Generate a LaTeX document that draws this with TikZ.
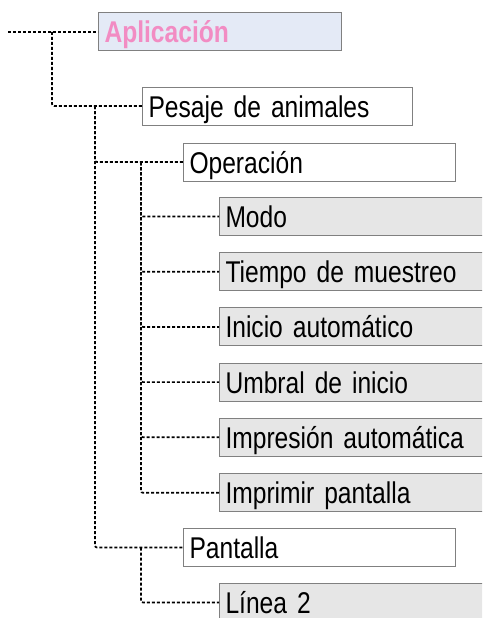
\documentclass[tikz,border=0pt]{standalone}
\usepackage{fontspec}
\setmainfont{Liberation Sans}[FakeStretch=0.82]
\definecolor{boxgray}{RGB}{128,128,128}
\definecolor{fillgray}{RGB}{230,230,230}
\definecolor{fillblue}{RGB}{228,234,246}
\definecolor{pinktext}{RGB}{242,140,195}
\begin{document}
\begin{tikzpicture}[x=1pt,y=-1pt,
  box/.style={draw=boxgray, line width=1pt, minimum height=38pt, text width=#1,
    inner xsep=6pt, inner ysep=0pt, text height=22pt, text depth=0pt,
    anchor=west, font=\fontsize{30}{32}\selectfont, align=left},
  conn/.style={line width=1.7pt, dash pattern=on 3pt off 2pt, rounded corners=2pt}]
\useasboundingbox (0,0) rectangle (482,618);
\clip (0,0) rectangle (482,618);
\fill[white] (0,0) rectangle (482,618);
% nodes
\node[box=231pt, fill=fillblue, text=pinktext, font=\fontsize{30}{32}\selectfont\bfseries] (app) at (98,32) {\mbox{Aplicación}};
\node[box=258pt, fill=white] (pes) at (142,106) {\mbox{Pesaje de animales}};
\node[box=260pt, fill=white] (oper) at (183,162) {\mbox{Operación}};
\node[box=269pt, fill=fillgray] (modo) at (219,216.5) {\mbox{Modo}};
\node[box=269pt, fill=fillgray] (tiem) at (219,271.7) {\mbox{Tiempo de muestreo}};
\node[box=269pt, fill=fillgray] (inic) at (219,326.9) {\mbox{Inicio automático}};
\node[box=269pt, fill=fillgray] (umbr) at (219,382.1) {\mbox{Umbral de inicio}};
\node[box=269pt, fill=fillgray] (impr) at (219,437.3) {\mbox{Impresión automática}};
\node[box=269pt, fill=fillgray] (impp) at (219,492.8) {\mbox{Imprimir pantalla}};
\node[box=260pt, fill=white] (pant) at (183,547.5) {\mbox{Pantalla}};
\node[box=269pt, fill=fillgray] (lin) at (219,602.5) {\mbox{Línea 2}};
% junctions
\coordinate (s) at (8,32);
\coordinate (j1) at (52,32);
\coordinate (j2) at (95,106);
\coordinate (j3) at (141,162);
\coordinate (j4) at (141,547.5);
% connectors
\draw[conn] (s) -- (app.west);
\draw[conn] (j1) |- (pes.west);
\draw[conn] (j2) |- (oper.west);
\draw[conn] (j2) |- (pant.west);
\foreach \c in {modo,tiem,inic,umbr,impr,impp}{
  \draw[conn] (j3) |- (\c.west);
}
\draw[conn] (j4) |- (lin.west);
\end{tikzpicture}
\end{document}
